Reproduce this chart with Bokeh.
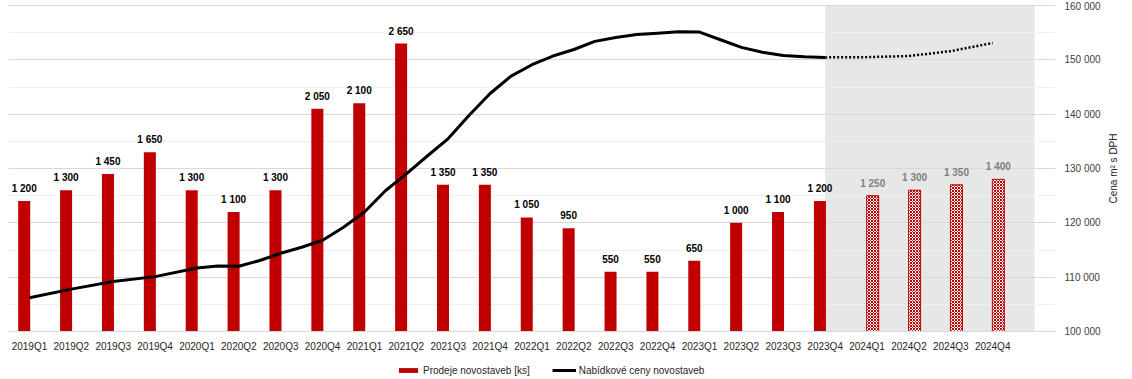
import math
from bokeh.plotting import figure
from bokeh.models import (ColumnDataSource, Range1d, LinearAxis, FixedTicker, LabelSet, Label,
                          Legend, LegendItem, BoxAnnotation)
from bokeh.core.properties import value
from bokeh.transform import dodge
from bokeh.embed import file_html
from bokeh.resources import INLINE

quarters = ["2019Q1", "2019Q2", "2019Q3", "2019Q4", "2020Q1", "2020Q2", "2020Q3", "2020Q4",
            "2021Q1", "2021Q2", "2021Q3", "2021Q4", "2022Q1", "2022Q2", "2022Q3", "2022Q4",
            "2023Q1", "2023Q2", "2023Q3", "2023Q4", "2024Q1", "2024Q2", "2024Q3", "2024Q4"]
sales_actual = [1200, 1300, 1450, 1650, 1300, 1100, 1300, 2050, 2100, 2650, 1350, 1350,
                1050, 950, 550, 550, 650, 1000, 1100, 1200]
sales_forecast = [1250, 1300, 1350, 1400]
# price line read at quarter (and mid-quarter) positions, index 0 = 2019Q1
price_pos = [0, 1, 2, 3, 4, 4.5, 5, 5.5, 6, 6.5, 7, 7.5, 8, 8.5, 9, 9.5, 10, 10.5, 11, 11.5,
             12, 12.5, 13, 13.5, 14, 14.5, 15, 15.5, 16, 16.5, 17, 17.5, 18, 18.5, 19]
price_actual = [106200, 107800, 109200, 110100, 111700, 112050, 112000, 113070, 114400,
                115500, 116800, 119200, 122000, 125900, 129000, 132300, 135500, 139800,
                143800, 147000, 149100, 150700, 151900, 153400, 154100, 154650, 154900,
                155150, 155100, 153700, 152300, 151400, 150800, 150550, 150450]
price_fc_pos = [19, 20, 21, 22, 23]
price_forecast = [150450, 150500, 150700, 151600, 153100]
price_ticks = [100000, 110000, 120000, 130000, 140000, 150000, 160000]
sales_max = 3000
forecast_start = 19   # quarter index where the shaded forecast region begins


def fmt(v):
    return f"{v:,}".replace(",", " ")


n_act = len(sales_actual)
src_a = ColumnDataSource(dict(x=list(range(n_act)), v=sales_actual,
                              lbl=[fmt(v) for v in sales_actual]))
src_f = ColumnDataSource(dict(x=list(range(n_act, n_act + len(sales_forecast))), v=sales_forecast,
                              lbl=[fmt(v) for v in sales_forecast]))
src_pa = ColumnDataSource(dict(x=price_pos, y=price_actual))
src_pf = ColumnDataSource(dict(x=price_fc_pos, y=price_forecast))

FONT = "Liberation Sans"
W, H = 1128, 379
# pixel layout of the plotting area (category band region and value axis span)
PL, PR, PT, PB = 8, 1055, 5, 331
n_cat = len(quarters) + 1            # one empty band at the right end
cat_px = (PR - PL) / n_cat
x_lo = -0.5
x_hi = x_lo + (W - PL) / cat_px
s_px = (PB - PT) / sales_max
y_lo, y_hi = -(H - PB) / s_px, sales_max + PT / s_px
pr_span = price_ticks[-1] - price_ticks[0]
p_px = (PB - PT) / pr_span
py_lo, py_hi = price_ticks[0] - (H - PB) / p_px, price_ticks[-1] + PT / p_px
x_edge = x_lo + n_cat                # right edge of the category area

p = figure(width=W, height=H, x_range=Range1d(x_lo, x_hi), y_range=Range1d(y_lo, y_hi),
           output_backend="svg", toolbar_location=None,
           x_axis_location=None, y_axis_location=None,
           min_border_left=PL, min_border_top=0, min_border_right=0, min_border_bottom=0)
p.outline_line_color = None
p.background_fill_color = "white"
p.extra_y_ranges = {"price": Range1d(py_lo, py_hi)}

# grid
p.xgrid.grid_line_color = None
p.ygrid.ticker = FixedTicker(ticks=list(range(0, sales_max + 1, 500)),
                             minor_ticks=list(range(250, sales_max, 500)))
p.ygrid.grid_line_color = "#d9d9d9"
p.ygrid.minor_grid_line_color = "#f0f0f0"

# forecast shading
p.add_layout(BoxAnnotation(left=forecast_start, right=len(quarters), bottom=0, top=sales_max,
                           fill_color="#e7e7e7", fill_alpha=1, line_alpha=0, level="image"))
# blank the margin right of the category area (gridlines stop there)
p.add_layout(BoxAnnotation(left=x_edge, fill_color="white", fill_alpha=1, line_alpha=0,
                           level="glyph"))

# x axis (fixed at the bar baseline)
xa = LinearAxis(ticker=FixedTicker(ticks=list(range(len(quarters)))),
                major_label_overrides={i: q for i, q in enumerate(quarters)},
                fixed_location=0, bounds=(x_lo, x_edge))
xa.major_tick_line_color = None
xa.major_tick_out = 0
xa.major_tick_in = 0
xa.minor_tick_line_color = None
xa.axis_line_color = "#d9d9d9"
xa.major_label_standoff = 9
xa.major_label_text_font = FONT
xa.major_label_text_font_size = "10px"
xa.major_label_text_color = "#262626"
p.add_layout(xa, "below")

# right axis (fixed at the right edge of the category area)
ya = LinearAxis(y_range_name="price", ticker=FixedTicker(ticks=price_ticks),
                major_label_overrides={t: fmt(t) for t in price_ticks},
                fixed_location=x_edge)
ya.axis_line_color = None
ya.major_tick_line_color = None
ya.major_tick_out = 0
ya.major_tick_in = 0
ya.minor_tick_line_color = None
ya.major_label_standoff = 9
ya.major_label_text_font = FONT
ya.major_label_text_font_size = "10px"
ya.major_label_text_color = "#404040"
p.add_layout(ya, "right")

# right axis title (reads bottom-to-top)
title_x = x_lo + (1113 - PL) / cat_px
p.add_layout(Label(x=title_x, y=(price_ticks[0] + price_ticks[-1]) / 2, y_range_name="price",
                   text="Cena m² s DPH", angle=math.pi / 2, text_align="center",
                   text_baseline="middle", text_font=FONT, text_font_size="10px",
                   text_color="#262626"))

# bars
bar_a = p.vbar(x=dodge("x", -0.125), top="v", width=0.287, source=src_a,
               fill_color="#c00000", line_color=None)
p.vbar(x=dodge("x", 0.135), top="v", width=0.287, source=src_f,
       fill_color="white", line_color="#c00000", line_width=1,
       hatch_pattern="diagonal_cross", hatch_color="#c00000", hatch_scale=3, hatch_weight=1)

p.add_layout(LabelSet(x=dodge("x", -0.125), y="v", text="lbl", source=src_a,
                      text_align="center", text_baseline="alphabetic", y_offset=9,
                      text_font=value(FONT), text_font_size="10px", text_font_style="bold",
                      text_color="black"))
p.add_layout(LabelSet(x=dodge("x", 0.135), y="v", text="lbl", source=src_f,
                      text_align="center", text_baseline="alphabetic", y_offset=9,
                      text_font=value(FONT), text_font_size="10px", text_font_style="bold",
                      text_color="#7f7f7f"))

# price line
line_a = p.line(x="x", y="y", source=src_pa, y_range_name="price", line_color="black",
                line_width=3, line_join="round")
p.line(x="x", y="y", source=src_pf, y_range_name="price", line_color="black",
       line_width=2.5, line_dash="2 2")

legend = Legend(items=[LegendItem(label="Prodeje novostaveb [ks]", renderers=[bar_a]),
                       LegendItem(label="Nabídkové ceny novostaveb", renderers=[line_a])],
                orientation="horizontal", location=(396 - PL, 3),
                glyph_width=24, glyph_height=6,
                label_height=12, label_standoff=3, spacing=22, padding=0, margin=0,
                border_line_color=None, background_fill_alpha=0,
                label_text_font=FONT, label_text_font_size="10px", label_text_color="#262626")
p.add_layout(legend)

open("out.html", "w").write(file_html(p, INLINE))
